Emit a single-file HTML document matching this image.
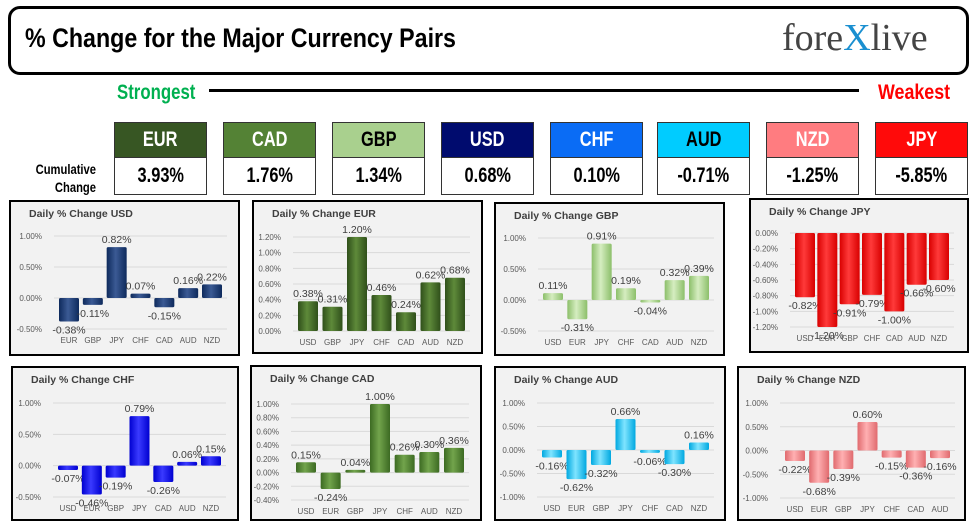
<!DOCTYPE html>
<html><head><meta charset="utf-8">
<style>
body{margin:0;width:978px;height:530px;background:#fff;overflow:hidden;position:relative;font-family:"Liberation Sans",sans-serif}
.abs{position:absolute}
.cond{font-family:"Liberation Sans",sans-serif;font-weight:bold}
.sq{display:inline-block;transform:scaleX(0.78);transform-origin:center}
.hdr{position:absolute;top:6px;left:8px;width:955px;height:63px;border:3px solid #000;border-radius:12px}
.cbox{position:absolute;width:91px;border:1px solid #333}
.ctop{height:34px;line-height:34px;text-align:center;font-size:21px}
.cval{height:36px;line-height:36px;text-align:center;font-size:21px;background:#fff;border-top:1px solid #333;color:#000}
.panel{position:absolute;border:2px solid #000;background:#f2f2f2;box-sizing:border-box}
svg text{font-family:"Liberation Sans",sans-serif}
</style></head><body>
<div class="hdr"></div>
<div class="abs cond" style="left:25px;top:23px;font-size:27px;transform:scaleX(0.86);transform-origin:left;white-space:nowrap">% Change for the Major Currency Pairs</div>
<div class="abs" style="left:782px;top:16px;font-family:'Liberation Serif',serif;font-size:38px;color:#444">fore<span style="color:#1a8fd0">X</span>live</div>
<div class="abs cond" style="left:117px;top:81px;font-size:21px;color:#00b050;transform:scaleX(0.8);transform-origin:left">Strongest</div>
<div class="abs" style="left:209px;top:89px;width:650px;height:3px;background:#000"></div>
<div class="abs cond" style="left:878px;top:81px;font-size:21px;color:#ff0000;transform:scaleX(0.85);transform-origin:left">Weakest</div>
<div class="abs cond" style="left:10px;top:160px;width:86px;text-align:right;font-size:14px;line-height:18px;transform:scaleX(0.8);transform-origin:right">Cumulative<br>Change</div>
<div id="boxes"></div>
<div id="charts"></div>
<script>
const curNames=["EUR","CAD","GBP","USD","CHF","AUD","NZD","JPY"];
const curValues=[3.93,1.76,1.34,0.68,0.10,-0.71,-1.25,-5.85];
const curColors=["#375623","#548235","#a9d08e","#000b6e","#0a6cf5","#00ccff","#ff7c80","#ff0a0a"];
const curText=["#fff","#fff","#000","#fff","#fff","#000","#fff","#fff"];
const curX=[114,223,332,441,550,657,766,875];
const bx=document.getElementById('boxes');
curNames.forEach((n,i)=>{
  const d=document.createElement('div');d.className='cbox';
  d.style.left=curX[i]+'px';d.style.top='122px';
  
  
  d.innerHTML='<div class="ctop cond" style="background:'+curColors[i]+';color:'+curText[i]+'"><span class="sq">'+n+'</span></div><div class="cval cond"><span class="sq">'+curValues[i].toFixed(2)+'%</span></div>';
  bx.appendChild(d);
});

const catsUSD=["EUR","GBP","JPY","CHF","CAD","AUD","NZD"];
const valsUSD=[-0.38,-0.11,0.82,0.07,-0.15,0.16,0.22];
const catsEUR=["USD","GBP","JPY","CHF","CAD","AUD","NZD"];
const valsEUR=[0.38,0.31,1.20,0.46,0.24,0.62,0.68];
const catsGBP=["USD","EUR","JPY","CHF","CAD","AUD","NZD"];
const valsGBP=[0.11,-0.31,0.91,0.19,-0.04,0.32,0.39];
const catsJPY=["USD","EUR","GBP","CHF","CAD","AUD","NZD"];
const valsJPY=[-0.82,-1.20,-0.91,-0.79,-1.00,-0.66,-0.60];
const catsCHF=["USD","EUR","GBP","JPY","CAD","AUD","NZD"];
const valsCHF=[-0.07,-0.46,-0.19,0.79,-0.26,0.06,0.15];
const catsCAD=["USD","EUR","GBP","JPY","CHF","AUD","NZD"];
const valsCAD=[0.15,-0.24,0.04,1.00,0.26,0.30,0.36];
const catsAUD=["USD","EUR","GBP","JPY","CHF","CAD","NZD"];
const valsAUD=[-0.16,-0.62,-0.32,0.66,-0.06,-0.30,0.16];
const catsNZD=["USD","EUR","GBP","JPY","CHF","CAD","AUD"];
const valsNZD=[-0.22,-0.68,-0.39,0.60,-0.15,-0.36,-0.16];
const ticksA=[1.0,0.5,0.0,-0.5];
const ticksEUR=[1.2,1.0,0.8,0.6,0.4,0.2,0.0];
const ticksJPY=[0,-0.2,-0.4,-0.6,-0.8,-1.0,-1.2];
const ticksCAD=[1.0,0.8,0.6,0.4,0.2,0.0,-0.2,-0.4];
const ticksB=[1.0,0.5,0.0,-0.5,-1.0];

const charts=[
 {name:"USD",cats:catsUSD,vals:valsUSD,ticks:ticksA,box:[9,200,231,156],yTop:236,yBot:329,x0:69,x1:212,col:["#0e2a5c","#3b5a94"]},
 {name:"EUR",cats:catsEUR,vals:valsEUR,ticks:ticksEUR,box:[252,200,231,154],yTop:237,yBot:331,x0:308,x1:455,col:["#2f4f1a","#5e8a3a"]},
 {name:"GBP",cats:catsGBP,vals:valsGBP,ticks:ticksA,box:[494,202,231,154],yTop:238,yBot:331,x0:553,x1:699,col:["#8cbf6a","#d5edc0"]},
 {name:"JPY",cats:catsJPY,vals:valsJPY,ticks:ticksJPY,box:[749,198,220,155],yTop:233,yBot:327,x0:805,x1:939,col:["#d80000","#ff3a3a"]},
 {name:"CHF",cats:catsCHF,vals:valsCHF,ticks:ticksA,box:[11,366,228,155],yTop:403,yBot:497,x0:68,x1:211,col:["#0000d0","#3a3aff"]},
 {name:"CAD",cats:catsCAD,vals:valsCAD,ticks:ticksCAD,box:[250,365,232,156],yTop:404,yBot:500,x0:306,x1:454,col:["#3c6a22","#72a44c"]},
 {name:"AUD",cats:catsAUD,vals:valsAUD,ticks:ticksB,box:[494,366,232,155],yTop:403,yBot:497,x0:552,x1:699,col:["#00a8e0","#7fe4ff"]},
 {name:"NZD",cats:catsNZD,vals:valsNZD,ticks:ticksB,box:[737,366,229,155],yTop:403,yBot:498,x0:795,x1:940,col:["#e06a6e","#ffb0b2"]}
];
const NS="http://www.w3.org/2000/svg";
const host=document.getElementById('charts');
charts.forEach(c=>{
  const [bx0,by0,bw,bh]=c.box;
  const p=document.createElement('div');p.className='panel';
  p.style.left=bx0+'px';p.style.top=by0+'px';p.style.width=bw+'px';p.style.height=bh+'px';
  
  
  host.appendChild(p);
  const svg=document.createElementNS(NS,'svg');
  svg.setAttribute('width',bw);svg.setAttribute('height',bh);
  svg.style.position='absolute';svg.style.left='-2px';svg.style.top='-2px';
  p.appendChild(svg);
  const tmax=c.ticks[0],tmin=c.ticks[c.ticks.length-1];
  const Y=v=>c.yTop+(tmax-v)/(tmax-tmin)*(c.yBot-c.yTop)-by0;
  const n=c.cats.length;
  const X=i=>c.x0+i*(c.x1-c.x0)/(n-1)-bx0;
  const gid='g'+c.name;
  svg.innerHTML='<defs><linearGradient id="'+gid+'" x1="0" x2="1"><stop offset="0" stop-color="'+c.col[0]+'"/><stop offset="0.45" stop-color="'+c.col[1]+'"/><stop offset="1" stop-color="'+c.col[0]+'"/></linearGradient></defs>';
  const mk=(tag,attrs,txt)=>{const e=document.createElementNS(NS,tag);for(const k in attrs)e.setAttribute(k,attrs[k]);if(txt!==undefined)e.textContent=txt;svg.appendChild(e);return e;};
  const t=mk('text',{x:20,y:17,'font-size':10.5,'font-weight':'bold',fill:'#404040'},'Daily % Change '+c.name);
  
  
  const gx0=X(0)-15,gx1=X(n-1)+15;
  c.ticks.forEach(v=>{
    const y=Y(v);
    const l=mk('line',{x1:gx0,x2:gx1,y1:y,y2:y,stroke:'#d9d9d9','stroke-width':1});
    
    
    const tl=mk('text',{x:gx0-12,y:y+3,'font-size':8,'text-anchor':'end',fill:'#595959'},v.toFixed(2)+'%');
    
    
  });
  const yLab=Y(tmin)+14;
  c.vals.forEach((v,i)=>{
    const x=X(i),y0=Y(0),y1=Y(v);
    const r=mk('rect',{x:x-10,y:Math.min(y0,y1),width:20,height:Math.max(1,Math.abs(y1-y0)),fill:'url(#'+gid+')',rx:1.5});
    
    
    const ly=v>=0?y1-4:y1+12;
    const vl=mk('text',{x:x,y:ly,'font-size':10.5,'text-anchor':'middle',fill:'#404040'},v.toFixed(2)+'%');
    
    
    const cl=mk('text',{x:x,y:yLab,'font-size':8,'text-anchor':'middle',fill:'#595959'},c.cats[i]);
    
    
  });
});
</script>
</body></html>
